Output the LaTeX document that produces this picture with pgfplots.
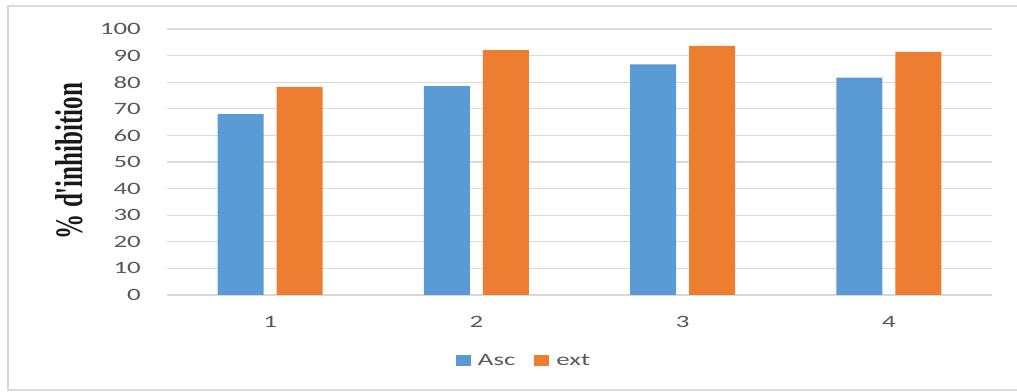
\documentclass[border=0pt]{standalone}
\usepackage{fontspec}
\setmainfont{Carlito}[FakeStretch=1.55]
\newfontfamily\labelfont{Liberation Serif}[FakeStretch=0.645]
\usepackage{pgfplots}
\pgfplotsset{compat=1.18}
\definecolor{ascblue}{HTML}{5B9BD5}
\definecolor{extorange}{HTML}{ED7D31}
\definecolor{gridgrey}{HTML}{D9D9D9}
\definecolor{framegrey}{HTML}{D9D9D9}
\definecolor{ticktext}{HTML}{595959}

\pgfplotstableread{
x  asc   ext
1  68.0  78.2
2  78.5  92.1
3  86.7  93.7
4  81.7  91.4
}\inhib

\begin{document}
\begin{tikzpicture}
\useasboundingbox (0bp,0bp) rectangle (1017bp,392bp);
% chart area frame
\draw[framegrey, line width=1.2bp] (8bp,2bp) rectangle (1040bp,386bp);
\begin{axis}[
  at={(167bp,97bp)}, anchor=south west,
  scale only axis, width=825bp, height=266bp,
  xmin=0.5, xmax=4.5, ymin=0, ymax=100,
  ybar=13bp, bar width=46bp,
  xtick={1,2,3,4}, ytick={0,10,...,100},
  major tick length=0pt,
  axis line style={draw=none},
  ymajorgrids, grid style={gridgrey, line width=1.2bp},
  /pgf/number format/assume math mode=true,
  tick label style={font=\fontsize{17.4}{20}\selectfont, text=ticktext, inner sep=0pt},
  yticklabel style={anchor=east, xshift=-26bp},
  xticklabel style={anchor=north, yshift=-21.5bp},
  ylabel={\% d'inhibition},
  every axis y label/.style={at={(axis description cs:-0.119,0.504)}, rotate=90, anchor=center,
    font=\labelfont\bfseries\fontsize{39}{40}\selectfont, text=black!90},
  legend columns=2,
  legend style={at={(axis description cs:0.4315,-0.248)}, anchor=center, draw=none,
    font=\fontsize{17.4}{20}\selectfont, text=ticktext, nodes={inner sep=0pt},
    column sep=7bp, /tikz/every even column/.append style={column sep=19bp}},
  legend image code/.code={\fill[#1] (0bp,-5.5bp) rectangle (15bp,5.5bp);},
]
\addplot[fill=ascblue, draw=none] table[x=x, y=asc] {\inhib};
\addplot[fill=extorange, draw=none] table[x=x, y=ext] {\inhib};
\legend{Asc, ext}
\end{axis}
\end{tikzpicture}
\end{document}
